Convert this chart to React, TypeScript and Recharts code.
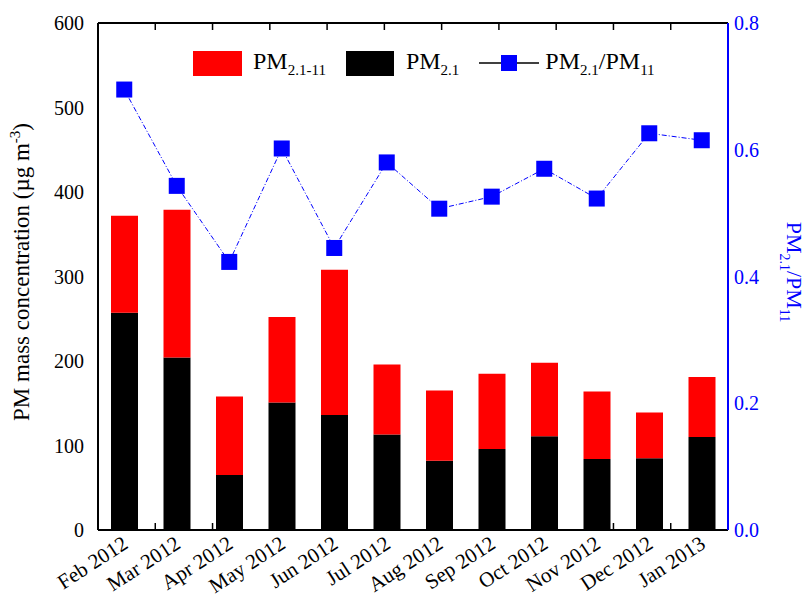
import React from "react";
import { ComposedChart, Bar, Line, XAxis, YAxis } from "recharts";

const months = [
  "Feb 2012", "Mar 2012", "Apr 2012", "May 2012", "Jun 2012", "Jul 2012",
  "Aug 2012", "Sep 2012", "Oct 2012", "Nov 2012", "Dec 2012", "Jan 2013",
];
const pm21 = [257, 204, 65, 151, 136, 113, 82, 96, 111, 84, 85, 110];
const pmCoarse = [115, 175, 93, 101, 172, 83, 83, 89, 87, 80, 54, 71];
const ratio = [0.695, 0.543, 0.423, 0.602, 0.445, 0.58, 0.507, 0.526, 0.57, 0.523, 0.626, 0.615];

const leftMajor = [0, 100, 200, 300, 400, 500, 600];
const leftMinor = [50, 150, 250, 350, 450, 550];
const rightMajor = [0, 0.2, 0.4, 0.6, 0.8];
const rightMinor = [0.1, 0.3, 0.5, 0.7];
const boundaries = [1, 2, 3, 4, 5, 6, 7, 8, 9, 10, 11];

const data = months.map((m, i) => ({ month: m, fine: pm21[i], coarse: pmCoarse[i], ratio: ratio[i] }));

const FONT = "'Liberation Serif', 'Times New Roman', serif";
const BLUE = "#0000FF";

const MonthTick = ({ x, y, payload }: any) => (
  <text
    x={x + 5}
    y={y + 9}
    transform={`rotate(-33, ${x + 5}, ${y + 9})`}
    textAnchor="end"
    fontSize={21}
    fontFamily={FONT}
    fill="#000"
  >
    {payload.value}
  </text>
);

const NoLabel = () => <g />;

const Square = (p: any) => (
  <rect key={p.index} x={p.cx - 8} y={p.cy - 8} width={16} height={16} fill={BLUE} />
);

const LegendBox = () => (
  <div style={{ position: "absolute", left: 193, top: 48, display: "flex", alignItems: "center", fontFamily: FONT, fontSize: 24, color: "#000", whiteSpace: "nowrap" }}>
    <span style={{ width: 49, height: 25, background: "#FF0000", display: "inline-block" }} />
    <span style={{ marginLeft: 11 }}>PM<sub style={{ fontSize: 15 }}>2.1-11</sub></span>
    <span style={{ width: 48, height: 25, background: "#000", display: "inline-block", marginLeft: 20 }} />
    <span style={{ marginLeft: 12 }}>PM<sub style={{ fontSize: 15 }}>2.1</sub></span>
    <svg width={60} height={20} style={{ marginLeft: 20 }}>
      <line x1={0} y1={10} x2={60} y2={10} stroke="#000" strokeWidth={1.5} />
      <rect x={22} y={2} width={16} height={16} fill={BLUE} />
    </svg>
    <span style={{ marginLeft: 6 }}>PM<sub style={{ fontSize: 15 }}>2.1</sub>/PM<sub style={{ fontSize: 15 }}>11</sub></span>
  </div>
);

export default function App() {
  return (
    <div style={{ position: "absolute", left: 0, top: 0, width: 807, height: 594, background: "#fff" }}>
      <ComposedChart width={807} height={594} data={data} margin={{ top: 23, right: 0, left: 0, bottom: 0 }}>
        <XAxis xAxisId="bnd" type="number" domain={[0, 12]} ticks={boundaries} orientation="bottom" mirror height={1}
          tick={<NoLabel />} axisLine={false} tickLine={{ stroke: "#000", strokeWidth: 1.5 }} tickSize={7} />
        <XAxis xAxisId="cat" dataKey="month" height={64} interval={0} tickLine={false}
          axisLine={{ stroke: "#000", strokeWidth: 2 }} tick={<MonthTick />} />
        <XAxis xAxisId="top" type="number" domain={[0, 12]} ticks={boundaries} orientation="top" mirror height={1}
          tick={<NoLabel />} axisLine={{ stroke: "#000", strokeWidth: 2 }} tickLine={{ stroke: "#000", strokeWidth: 1.5 }} tickSize={7} />

        <YAxis yAxisId="lmaj" orientation="left" mirror width={1} domain={[0, 600]} ticks={leftMajor}
          tick={<NoLabel />} axisLine={false} tickLine={{ stroke: "#000", strokeWidth: 1.5 }} tickSize={8} />
        <YAxis yAxisId="lmin" orientation="left" mirror width={1} domain={[0, 600]} ticks={leftMinor}
          tick={<NoLabel />} axisLine={false} tickLine={{ stroke: "#000", strokeWidth: 1.5 }} tickSize={5} />
        <YAxis yAxisId="left" orientation="left" width={98} domain={[0, 600]} ticks={leftMajor} interval={0}
          tickLine={false} axisLine={{ stroke: "#000", strokeWidth: 2 }} tickMargin={8}
          tick={{ fontSize: 20, fontFamily: FONT, fill: "#000" }} />

        <YAxis yAxisId="rmaj" orientation="right" mirror width={1} domain={[0, 0.8]} ticks={rightMajor}
          tick={<NoLabel />} axisLine={false} tickLine={{ stroke: BLUE, strokeWidth: 1.5 }} tickSize={8} />
        <YAxis yAxisId="rmin" orientation="right" mirror width={1} domain={[0, 0.8]} ticks={rightMinor}
          tick={<NoLabel />} axisLine={false} tickLine={{ stroke: BLUE, strokeWidth: 1.5 }} tickSize={5} />
        <YAxis yAxisId="ratio" orientation="right" width={79} domain={[0, 0.8]} ticks={rightMajor} interval={0}
          tickLine={false} axisLine={{ stroke: BLUE, strokeWidth: 2 }} tickMargin={0}
          tickFormatter={(v: number) => v.toFixed(1)}
          tick={{ fontSize: 20, fontFamily: FONT, fill: BLUE, textAnchor: "start" }} />

        <Bar xAxisId="cat" yAxisId="left" dataKey="fine" stackId="pm" fill="#000" barSize={27} isAnimationActive={false} />
        <Bar xAxisId="cat" yAxisId="left" dataKey="coarse" stackId="pm" fill="#FF0000" barSize={27} isAnimationActive={false} />
        <Line xAxisId="cat" yAxisId="ratio" dataKey="ratio" stroke={BLUE} strokeWidth={1} strokeDasharray="5 2 1 2"
          dot={Square} activeDot={false} isAnimationActive={false} />
      </ComposedChart>

      <LegendBox />

      <svg width={807} height={594} style={{ position: "absolute", left: 0, top: 0, pointerEvents: "none" }}>
        <text transform="translate(29, 272) rotate(-90)" textAnchor="middle" fontSize={23} fontFamily={FONT} fill="#000">
          PM mass concentration (µg m<tspan dy={-9} fontSize={15}>-3</tspan><tspan dy={9}>)</tspan>
        </text>
        <text transform="translate(787, 272) rotate(90)" textAnchor="middle" fontSize={22} fontFamily={FONT} fill={BLUE}>
          PM<tspan dy={7} fontSize={14}>2.1</tspan><tspan dy={-7}>/PM</tspan><tspan dy={7} fontSize={14}>11</tspan>
        </text>
      </svg>
    </div>
  );
}
